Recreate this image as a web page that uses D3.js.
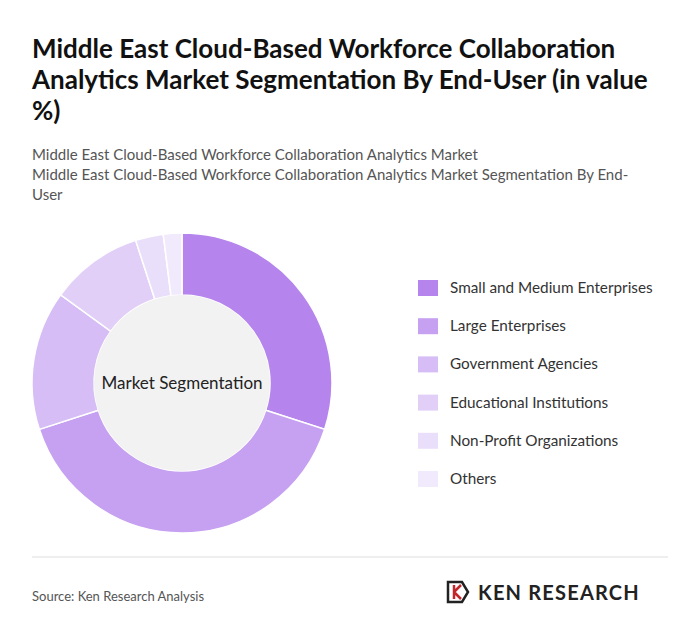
<!DOCTYPE html><html><head><meta charset="utf-8"><script src="https://cdn.jsdelivr.net/npm/d3@7"></script>
<style>body{margin:0;background:#fff;font-family:Lato,"Open Sans",sans-serif}</style></head><body><svg id="c" width="700" height="642"></svg>
<script>
const categories=["Small and Medium Enterprises","Large Enterprises","Government Agencies","Educational Institutions","Non-Profit Organizations","Others"];
const values=[30,40,15,10,3,2];
const colors=["#b584ec","#c6a0f1","#d6bdf5","#e1cff8","#eadffa","#f1e9fc"];
const svg=d3.select("#c");
const t=svg.append("text").attr("x",32).attr("font-size",26).attr("font-weight",700).attr("fill","#111");
["Middle East Cloud-Based Workforce Collaboration","Analytics Market Segmentation By End-User (in value","%)"].forEach((s,i)=>t.append("tspan").attr("x",32).attr("y",58+i*31).text(s));
const st=svg.append("text").attr("font-size",15).attr("fill","#555");
["Middle East Cloud-Based Workforce Collaboration Analytics Market","Middle East Cloud-Based Workforce Collaboration Analytics Market Segmentation By End-","User"].forEach((s,i)=>st.append("tspan").attr("x",32).attr("y",160+i*20).text(s));
const g=svg.append("g").attr("transform","translate(182,383)");
const pie=d3.pie().sort(null).value(d=>d)(values);
const arc=d3.arc().innerRadius(88).outerRadius(150);
g.selectAll("path").data(pie).join("path").attr("d",arc).attr("fill",(d,i)=>colors[i]).attr("stroke","#fff").attr("stroke-width",1.5);
g.append("circle").attr("r",88).attr("fill","#f2f2f2");
g.append("text").attr("text-anchor","middle").attr("dy",6).attr("font-size",17).attr("fill","#222").text("Market Segmentation");
const y=d3.scalePoint().domain(categories).range([288,479]);
const lg=svg.append("g");
categories.forEach((c,i)=>{lg.append("rect").attr("x",418).attr("y",y(c)-8).attr("width",20).attr("height",16).attr("fill",colors[i]);
lg.append("text").attr("x",450).attr("y",y(c)+5).attr("font-size",15.3).attr("fill","#333").text(c);});
svg.append("line").attr("x1",32).attr("x2",668).attr("y1",557).attr("y2",557).attr("stroke","#ddd");
svg.append("text").attr("x",32).attr("y",601).attr("font-size",13).attr("fill","#555").text("Source: Ken Research Analysis");
const lo=svg.append("g").attr("transform","translate(448,582)");
lo.append("path").attr("d","M0,0 L14,0 L20,10 L14,20 L0,20 Z").attr("fill","none").attr("stroke","#222").attr("stroke-width",2.5);
lo.append("path").attr("d","M6,3 L6,17 M6,10 L13,3 M6,10 L13,17").attr("stroke","#c0282d").attr("stroke-width",2.5).attr("fill","none");
lo.append("text").attr("x",30).attr("y",18).attr("font-size",20).attr("font-weight",700).attr("fill","#222").attr("letter-spacing",1.2).text("KEN RESEARCH");
</script></body></html>
